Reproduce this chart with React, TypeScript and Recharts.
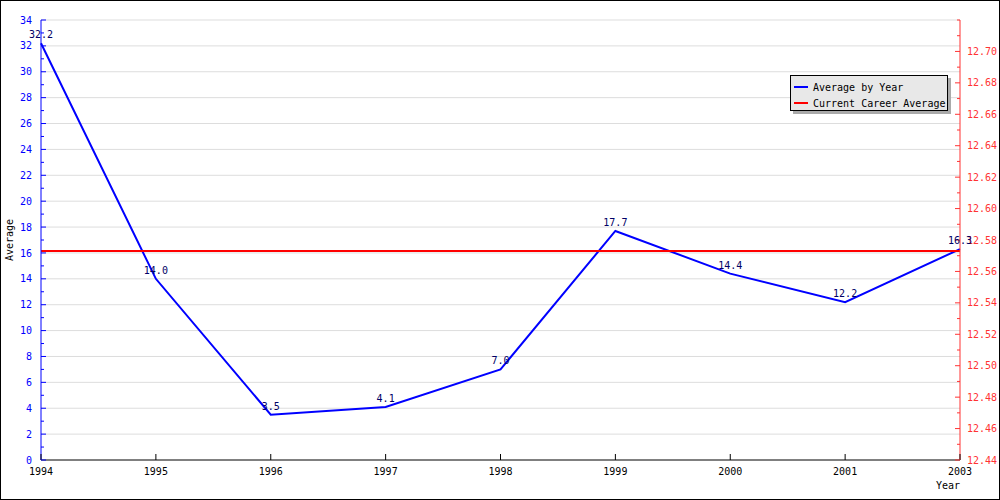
import React from "react";
import { LineChart, Line, XAxis, YAxis, ReferenceLine, Legend, LabelList } from "recharts";

// values
const years = ["1994", "1995", "1996", "1997", "1998", "1999", "2000", "2001", "2003"];
const yearAverages = [32.2, 14.0, 3.5, 4.1, 7.0, 17.7, 14.4, 12.2, 16.3];
const careerAverage = 12.573;

const leftTicks = [
  0, 1, 2, 3, 4, 5, 6, 7, 8, 9, 10, 11, 12, 13, 14, 15, 16, 17,
  18, 19, 20, 21, 22, 23, 24, 25, 26, 27, 28, 29, 30, 31, 32, 33, 34,
];
const gridValues = [2, 4, 6, 8, 10, 12, 14, 16, 18, 20, 22, 24, 26, 28, 30, 32, 34];
const rightTicks = [
  12.44, 12.45, 12.46, 12.47, 12.48, 12.49, 12.5, 12.51, 12.52, 12.53, 12.54, 12.55, 12.56, 12.57, 12.58,
  12.59, 12.6, 12.61, 12.62, 12.63, 12.64, 12.65, 12.66, 12.67, 12.68, 12.69, 12.7, 12.71, 12.72,
];
const rightMax = 12.72;

const data = years.map((year, i) => ({
  year,
  average: yearAverages[i],
  career: careerAverage,
}));

const FONT = "'DejaVu Sans Mono', monospace";
const BLUE = "#0000ff";
const RED = "#ff3333";

const LeftTick = (props: any) => {
  const { x, y, payload } = props;
  const v = payload.value;
  const major = v % 2 === 0;
  const ax = x + 9;
  return (
    <g>
      <line x1={ax} x2={ax + (major ? 5 : 3)} y1={y} y2={y} stroke={BLUE} />
      {major && (
        <text x={x} y={y} dy="0.36em" textAnchor="end" fill={BLUE} fontSize={10} fontFamily={FONT}>
          {v}
        </text>
      )}
    </g>
  );
};

const RightTick = (props: any) => {
  const { x, y, payload } = props;
  const v = payload.value;
  const major = Math.round(v * 100) % 2 === 0 && v < rightMax;
  const ax = x - 7;
  return (
    <g>
      <line x1={ax - (major ? 5 : 3)} x2={ax} y1={y} y2={y} stroke={RED} />
      {major && (
        <text x={x} y={y} dy="0.36em" textAnchor="start" fill={RED} fontSize={10} fontFamily={FONT}>
          {v.toFixed(2)}
        </text>
      )}
    </g>
  );
};

const YearTick = (props: any) => {
  const { x, y, payload } = props;
  const ay = y - 8;
  return (
    <g>
      <line x1={x} x2={x} y1={ay} y2={ay - 6} stroke="#000" />
      <text x={x} y={y} dy="0.71em" textAnchor="middle" fill="#000" fontSize={10} fontFamily={FONT}>
        {payload.value}
      </text>
    </g>
  );
};

const AverageTitle = (props: any) => {
  const vb = props.viewBox;
  const cx = vb.x + 13;
  const cy = vb.y + vb.height / 2;
  return (
    <text x={cx} y={cy} transform={`rotate(-90, ${cx}, ${cy})`} textAnchor="middle" fill="#000" fontSize={10} fontFamily={FONT}>
      Average
    </text>
  );
};

const YearTitle = (props: any) => {
  const vb = props.viewBox;
  return (
    <text x={vb.x + vb.width} y={vb.y + 29} textAnchor="end" fill="#000" fontSize={10} fontFamily={FONT}>
      Year
    </text>
  );
};

const renderLegend = (props: any) => {
  const items = props.payload || [];
  return (
    <div
      style={{
        position: "relative",
        width: 158,
        height: 36,
        background: "#e8e8e8",
        border: "1px solid #000",
        boxShadow: "3px 3px 0 #aaaaaa",
        fontFamily: FONT,
        fontSize: 10,
        color: "#000",
        boxSizing: "border-box",
        padding: "3px 0 0 3px",
      }}
    >
      {items.map((it: any) => (
        <div key={it.value} style={{ display: "flex", alignItems: "center", height: 16 }}>
          <span style={{ display: "inline-block", width: 14, height: 2, background: it.color, marginRight: 5 }} />
          <span>{it.value}</span>
        </div>
      ))}
    </div>
  );
};

export default function App() {
  return (
    <div style={{ position: "absolute", left: 0, top: 0, width: 1000, height: 500, background: "#fff" }}>
      <LineChart width={1000} height={500} data={data} margin={{ top: 20, right: 0, bottom: 0, left: 0 }}>
        {gridValues.map((v) => (
          <ReferenceLine key={v} yAxisId="left" y={v} stroke="#dddddd" strokeWidth={1} />
        ))}
        <XAxis
          dataKey="year"
          height={40}
          interval={0}
          tickSize={0}
          tickMargin={8}
          tickLine={false}
          axisLine={{ stroke: "#000" }}
          tick={<YearTick />}
          label={<YearTitle />}
        />
        <YAxis
          yAxisId="left"
          orientation="left"
          width={41}
          domain={[0, 34]}
          ticks={leftTicks}
          interval={0}
          tickSize={0}
          tickMargin={9}
          tickLine={false}
          axisLine={{ stroke: BLUE }}
          tick={<LeftTick />}
          label={<AverageTitle />}
        />
        <YAxis
          yAxisId="right"
          orientation="right"
          width={40}
          domain={[12.44, rightMax]}
          ticks={rightTicks}
          interval={0}
          tickSize={0}
          tickMargin={7}
          tickLine={false}
          axisLine={{ stroke: RED }}
          tick={<RightTick />}
        />
        <Legend
          layout="vertical"
          align="center"
          verticalAlign="middle"
          content={renderLegend}
          wrapperStyle={{ left: 790, top: 75, right: "auto", bottom: "auto", width: 162, height: 40 }}
        />
        <Line
          yAxisId="left"
          type="linear"
          dataKey="average"
          name="Average by Year"
          stroke={BLUE}
          strokeWidth={2}
          dot={false}
          isAnimationActive={false}
        >
          <LabelList
            dataKey="average"
            position="top"
            offset={5}
            formatter={(v: any) => Number(v).toFixed(1)}
            style={{ fill: "#000066", fontSize: 10, fontFamily: FONT }}
          />
        </Line>
        <Line
          yAxisId="right"
          type="linear"
          dataKey="career"
          name="Current Career Average"
          stroke="#ff0000"
          strokeWidth={2}
          dot={false}
          isAnimationActive={false}
        />
      </LineChart>
      <div
        style={{
          position: "absolute",
          left: 0,
          top: 0,
          width: 1000,
          height: 500,
          border: "1px solid #000",
          boxSizing: "border-box",
          pointerEvents: "none",
        }}
      />
    </div>
  );
}
